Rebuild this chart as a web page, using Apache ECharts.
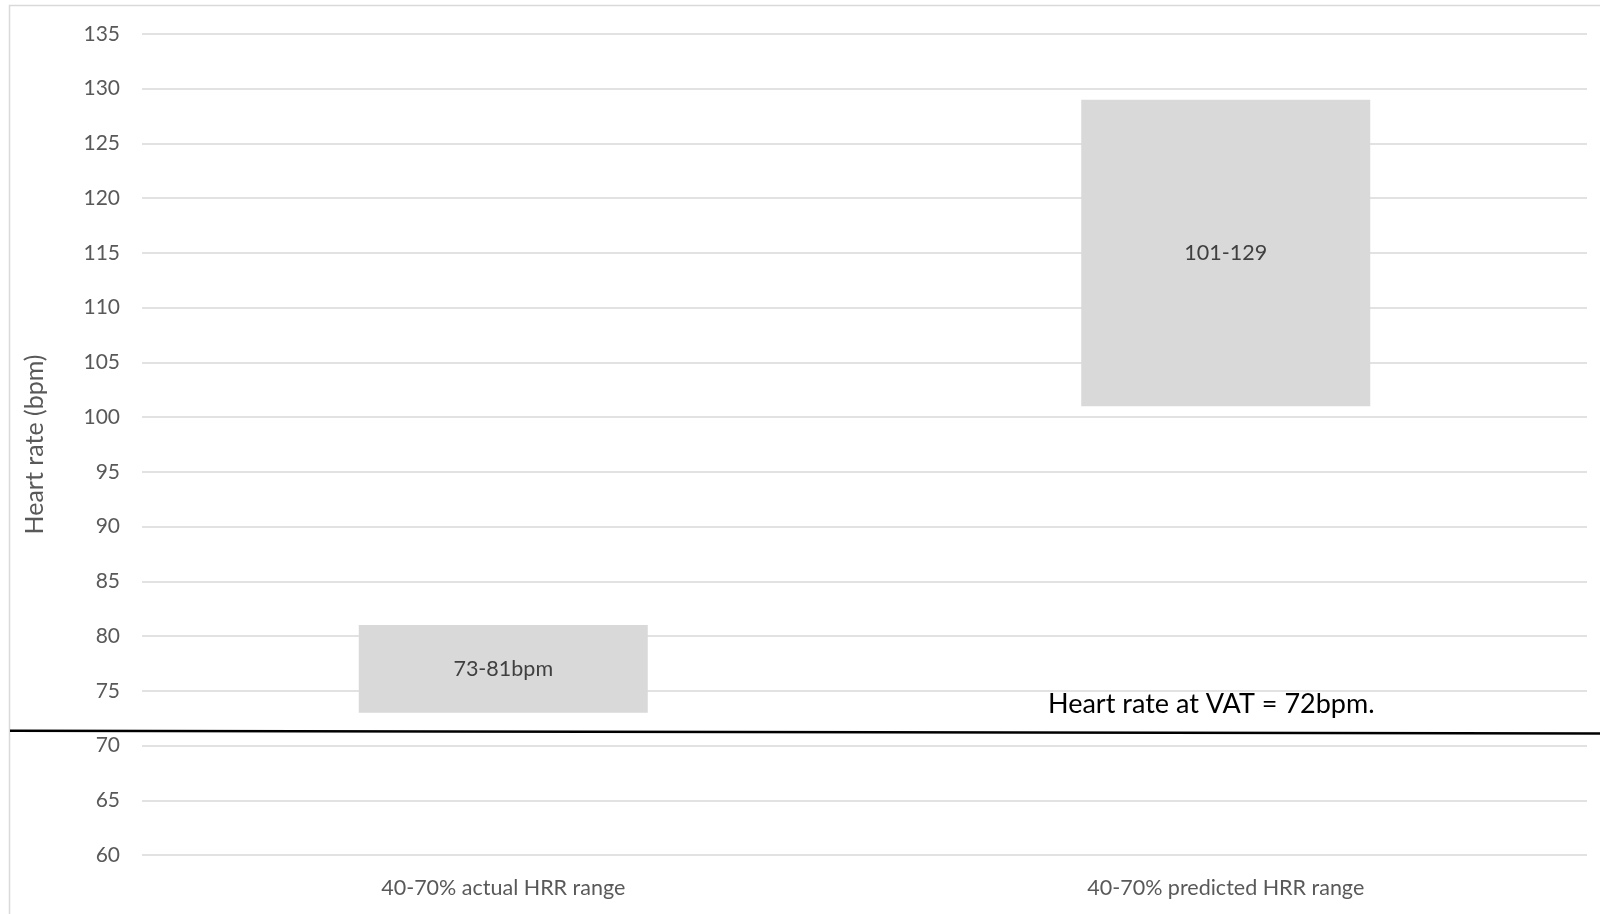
<!DOCTYPE html>
<html lang="en">
<head>
	<meta charset="UTF-8">
	<title>Heart rate ranges</title>
	<script src="https://cdn.jsdelivr.net/npm/echarts@6/dist/echarts.min.js"></script>
	<style>
		html, body { margin: 0; padding: 0; background: #fff; }
	</style>
</head>
<body>
	<div id="main" style="width: 1600px;height:914px;"></div>

<script type="text/javascript">
// data
var categories = ['40-70% actual HRR range', '40-70% predicted HRR range'];
var lows = [73, 101];
var highs = [81, 129];
var barLabels = ['73-81bpm', '101-129'];
var yTicks = { min: 60, max: 135, step: 5 };
// VAT line as drawn (left end, right end) and its note
var vatLine = [71.35, 71.1];
var vatNote = 'Heart rate at VAT = 72bpm.';

var font = 'Lato, "Open Sans", sans-serif';
var chart = echarts.init(document.getElementById('main'));

var option = {
	animation: false,
	grid: { left: 142, right: 13, top: 34, bottom: 59 },
	xAxis: {
		type: 'category',
		data: categories,
		axisLine: { show: false },
		axisTick: { show: false },
		axisLabel: { color: '#595959', fontSize: 21.5, fontFamily: font, margin: 22 }
	},
	yAxis: {
		type: 'value',
		min: yTicks.min,
		max: yTicks.max,
		interval: yTicks.step,
		name: 'Heart rate (bpm)',
		nameLocation: 'middle',
		nameGap: 95,
		nameTextStyle: { color: '#595959', fontSize: 25, fontFamily: font },
		axisLine: { show: false },
		axisTick: { show: false },
		axisLabel: { color: '#595959', fontSize: 21, fontFamily: font, margin: 22 },
		splitLine: { lineStyle: { color: '#d9d9d9', width: 1.5 } }
	},
	series: [
		{
			type: 'bar',
			stack: 'range',
			data: lows,
			itemStyle: { color: 'transparent' },
			barWidth: '40%',
			silent: true
		},
		{
			type: 'bar',
			stack: 'range',
			data: highs.map(function (h, i) { return h - lows[i]; }),
			itemStyle: { color: '#d9d9d9' },
			barWidth: '40%',
			label: {
				show: true,
				position: 'inside',
				color: '#404040',
				fontSize: 21.5,
				fontFamily: font,
				formatter: function (p) { return barLabels[p.dataIndex]; }
			}
		}
	]
};
chart.setOption(option);

var yL = chart.convertToPixel({ yAxisIndex: 0 }, vatLine[0]);
var yR = chart.convertToPixel({ yAxisIndex: 0 }, vatLine[1]);
var noteY = chart.convertToPixel({ yAxisIndex: 0 }, 73.8);

chart.setOption({
	graphic: [
		{
			type: 'rect',
			shape: { x: 9.5, y: 5.5, width: 1700, height: 1000 },
			style: { fill: 'none', stroke: '#d9d9d9', lineWidth: 1.5 },
			silent: true
		},
		{
			type: 'line',
			shape: { x1: 10, y1: yL, x2: 1600, y2: yR },
			style: { stroke: '#000', lineWidth: 2.6 },
			z: 10
		},
		{
			type: 'text',
			x: 1048,
			y: noteY,
			style: { text: vatNote, fill: '#000', fontSize: 27, fontFamily: font, textVerticalAlign: 'middle' },
			z: 10
		}
	]
});
</script>
</body>
</html>
